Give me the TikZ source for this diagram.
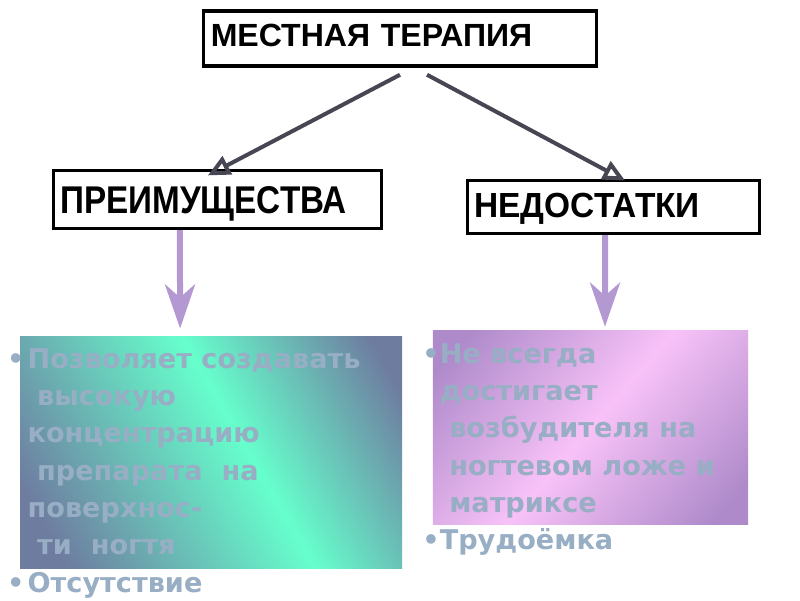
\documentclass[tikz,border=0pt]{standalone}
\usepackage{fontspec}
\usepackage{xcolor}
\usepackage{tikz}
\usetikzlibrary{arrows.meta, positioning}

\newfontfamily\headfont{Liberation Sans}
\newfontfamily\bodyfont{DejaVu Sans}
\newcommand{\ind}{\hspace*{0.35em}}

\definecolor{slate}{HTML}{6E7CA0}
\definecolor{aqua}{HTML}{66FFCC}
\definecolor{orchid}{HTML}{AE8ACA}
\definecolor{blush}{HTML}{F8C2F8}
\definecolor{notegray}{HTML}{98AEC4}
\definecolor{arrgray}{HTML}{474753}
\definecolor{lilac}{HTML}{B498D2}

\pgfdeclareverticalshading{prosglow}{100bp}{color(0bp)=(slate); color(22bp)=(slate); color(55bp)=(aqua); color(80bp)=(slate); color(100bp)=(slate)}
\pgfdeclareverticalshading{consglow}{100bp}{color(0bp)=(orchid); color(20bp)=(orchid); color(50bp)=(blush); color(80bp)=(orchid); color(100bp)=(orchid)}

\begin{document}
\begin{tikzpicture}[
    x=0.025cm, y=-0.025cm,
    box/.style={draw, line width=0.075cm, align=left, inner xsep=0.18cm, inner ysep=0pt},
    panel/.style={inner sep=0pt, shade},
    note/.style={inner sep=0pt, align=left, text=notegray, font=\bodyfont\bfseries\fontsize{19.3}{26.5}\selectfont},
    arr/.style={draw=arrgray, line width=0.1cm, -{Triangle[open, length=0.55cm, width=0.5cm]}},
    darr/.style={draw=lilac, line width=0.15cm, -{Stealth[length=1.1cm, width=0.75cm, inset=0.33cm]}},
  ]
    \path[use as bounding box, fill=white] (0,0) rectangle (800,600);

    \node[box, line width=0.0875cm, text width=9.46cm, minimum height=1.375cm, text depth=0.15cm,
      font=\headfont\bfseries\fontsize{22.8}{26}\selectfont] (therapy) at (400,38.5) {МЕСТНАЯ ТЕРАПИЯ};
    \node[box, text width=7.86cm, minimum height=1.45cm, text depth=0pt,
      font=\headfont\bfseries\fontsize{27.5}{30}\selectfont\addfontfeature{FakeStretch=0.86}] (pros) at (217.5,199.5) {ПРЕИМУЩЕСТВА};
    \node[box, text width=6.95cm, minimum height=1.325cm, text depth=0.075cm,
      font=\headfont\bfseries\fontsize{24.8}{28}\selectfont\addfontfeature{FakeStretch=0.96}] (cons) at (613.5,207) {НЕДОСТАТКИ};

    % gradient panels
    \node[panel, shading=prosglow, shading angle=-60, below=2.66cm of pros, xshift=-0.16cm,
      minimum width=9.55cm, minimum height=5.8cm] (prosBox) {};
    \node[panel, shading=consglow, shading angle=49, below=2.39cm of cons, xshift=-0.575cm,
      minimum width=7.875cm, minimum height=4.85cm] (consBox) {};

    \node[note, below right=0.14cm and 0.19cm of prosBox.north west] (prosText)
      {\strut\llap{•\kern0.08cm}Позволяет создавать\\
       \ind высокую\\
       концентрацию\\
       \ind препарата\ \ на\\
       поверхнос-\\
       \ind ти\ \ ногтя\\
       \llap{•\kern0.08cm}Отсутствие};
    \node[note, below right=0.16cm and 0.17cm of consBox.north west] (consText)
      {\strut\llap{•}Не всегда\\
       достигает\\
       \ind возбудителя на\\
       \ind ногтевом ложе и\\
       \ind матриксе\\
       \llap{•}Трудоёмка};

    \draw[arr] ([yshift=-0.175cm]therapy.south) -- ([xshift=-0.24cm, yshift=-0.16cm]pros.north);
    \draw[arr] ([xshift=0.675cm, yshift=-0.175cm]therapy.south) -- ([xshift=0.29cm, yshift=-0.04cm]cons.north);
    \draw[darr] ([xshift=-0.94cm]pros.south) -- ([xshift=-0.775cm, yshift=0.2cm]prosBox.north);
    \draw[darr] ([xshift=-0.21cm]cons.south) -- ([xshift=0.3625cm, yshift=0.1cm]consBox.north);
  \end{tikzpicture}
\end{document}
